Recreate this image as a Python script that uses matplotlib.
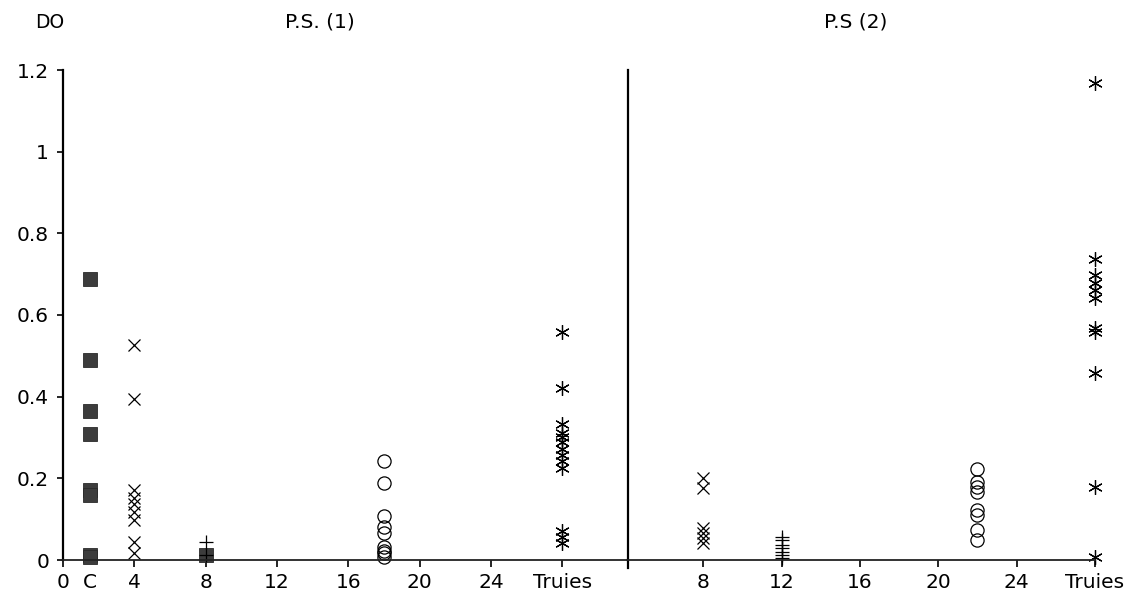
import matplotlib
matplotlib.use("Agg")
import matplotlib.pyplot as plt

# ---- data ----
# Panel P.S. (1)
ps1_x_ticks = [0, 1.5, 4, 8, 12, 16, 20, 24, 28]
ps1_x_labels = ["0", "C", "4", "8", "12", "16", "20", "24", "Truies"]
ps1_C_x = 1.5
ps1_C_sq = [0.688, 0.489, 0.364, 0.309, 0.172, 0.160, 0.012, 0.008]
ps1_4_x = 4
ps1_4_cross = [0.527, 0.395, 0.172, 0.152, 0.137, 0.118, 0.098, 0.045, 0.018]
ps1_8_x = 8
ps1_8_sq = [0.012]
ps1_8_plus = [0.045, 0.012]
ps1_18_x = 18
ps1_18_circ = [0.243, 0.189, 0.108, 0.081, 0.066, 0.032, 0.023, 0.016, 0.008]
ps1_T_x = 28
ps1_T_ast = [0.558, 0.422, 0.334, 0.312, 0.302, 0.290, 0.272, 0.258, 0.243, 0.226, 0.070, 0.056, 0.042]

# Panel P.S (2)
ps2_x_ticks = [8, 12, 16, 20, 24, 28]
ps2_x_labels = ["8", "12", "16", "20", "24", "Truies"]
ps2_8_x = 8
ps2_8_cross = [0.200, 0.176, 0.078, 0.066, 0.054, 0.041]
ps2_12_x = 12
ps2_12_plus = [0.057, 0.049, 0.037, 0.029, 0.020, 0.012, 0.006]
ps2_22_x = 22
ps2_22_circ = [0.223, 0.192, 0.180, 0.167, 0.123, 0.110, 0.074, 0.049]
ps2_T_x = 28
ps2_T_ast = [1.168, 0.737, 0.698, 0.678, 0.660, 0.641, 0.568, 0.558, 0.458, 0.179, 0.008]

y_ticks = [0, 0.2, 0.4, 0.6, 0.8, 1.0, 1.2]
y_labels = ["0", "0.2", "0.4", "0.6", "0.8", "1", "1.2"]

plt.rcParams["font.family"] = ["DejaVu Sans"]
W, H = 1139, 597
fig = plt.figure(figsize=(W / 100, H / 100), dpi=100)

y0_px, y1_px = 560, 70
bottom = (H - y0_px) / H
height = (y0_px - y1_px) / H

axL = fig.add_axes([63 / W, bottom, (627.7 - 63) / W, height])
axR = fig.add_axes([627.7 / W, bottom, (1095 - 627.7) / W, height])

axL.set_xlim(0, 31.66)
axR.set_xlim(4.14, 28)
for ax in (axL, axR):
    ax.set_ylim(0, 1.2)
    ax.spines["top"].set_visible(False)
    ax.spines["right"].set_visible(False)
    ax.spines["bottom"].set_linewidth(1.3)
    ax.spines["bottom"].set_color("#222222")
    ax.spines["left"].set_linewidth(1.6)
    ax.set_facecolor("none")

sq_kw = dict(linestyle="none", marker="s", ms=9.5, mfc="#3c3c3c", mec="#2a2a2a", mew=0.6, clip_on=False)
x_kw = dict(linestyle="none", marker="x", ms=8.5, color="black", mew=0.9, clip_on=False)
p_kw = dict(linestyle="none", marker="+", ms=10, color="black", mew=0.9, clip_on=False)
o_kw = dict(linestyle="none", marker="o", ms=9.5, mfc="none", mec="black", mew=0.9, clip_on=False)
a_kw = dict(linestyle="none", marker=(6, 2, 0), ms=10.5, color="black", mew=0.9, clip_on=False)

axL.plot([ps1_C_x] * len(ps1_C_sq), ps1_C_sq, **sq_kw)
axL.plot([ps1_4_x] * len(ps1_4_cross), ps1_4_cross, **x_kw)
axL.plot([ps1_8_x] * len(ps1_8_sq), ps1_8_sq, **sq_kw)
axL.plot([ps1_8_x] * len(ps1_8_plus), ps1_8_plus, **p_kw)
axL.plot([ps1_18_x] * len(ps1_18_circ), ps1_18_circ, **o_kw)
axL.plot([ps1_T_x] * len(ps1_T_ast), ps1_T_ast, **a_kw)

axR.plot([ps2_8_x] * len(ps2_8_cross), ps2_8_cross, **x_kw)
axR.plot([ps2_12_x] * len(ps2_12_plus), ps2_12_plus, **p_kw)
axR.plot([ps2_22_x] * len(ps2_22_circ), ps2_22_circ, **o_kw)
axR.plot([ps2_T_x] * len(ps2_T_ast), ps2_T_ast, **a_kw)

FS = 14.5
# y axis ticks (left panel only)
axL.set_yticks(y_ticks)
axL.set_yticklabels(y_labels)
axL.tick_params(axis="y", direction="out", length=4, width=1.2, labelsize=FS, pad=6)
axR.set_yticks([])

# x ticks
axL.set_xticks(ps1_x_ticks)
axL.set_xticklabels(ps1_x_labels)
axL.tick_params(axis="x", direction="out", length=5, width=1.2, labelsize=FS, pad=4)
# no tick mark for "C"
axL.xaxis.get_major_ticks()[1].tick1line.set_visible(False)

axR.set_xticks(ps2_x_ticks)
axR.set_xticklabels(ps2_x_labels)
axR.tick_params(axis="x", direction="out", length=5, width=1.2, labelsize=FS, pad=4)

# divider extends slightly below the axis
axR.plot([4.14, 4.14], [-0.02, 0], color="black", lw=1.6, clip_on=False)

fig.text(50 / W, 1 - 22 / H, "DO", ha="center", va="center", fontsize=13.5)
fig.text(320 / W, 1 - 22 / H, "P.S. (1)", ha="center", va="center", fontsize=FS)
fig.text(856 / W, 1 - 22 / H, "P.S (2)", ha="center", va="center", fontsize=FS)

fig.savefig("out.png", dpi=100)
